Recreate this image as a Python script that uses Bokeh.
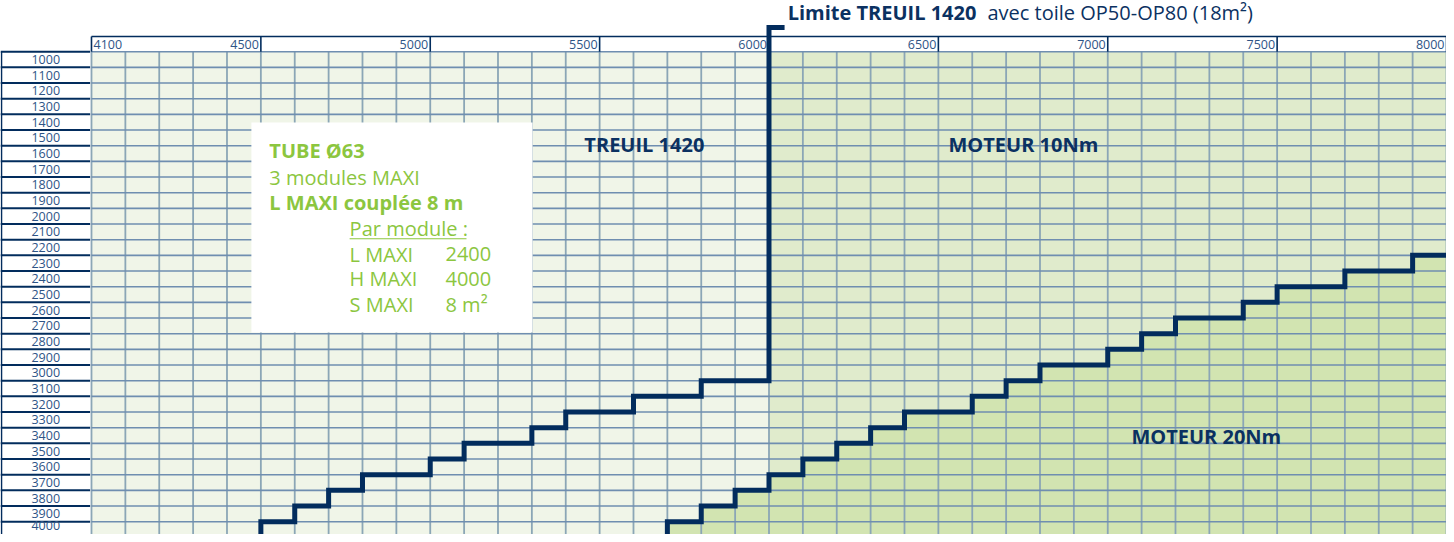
from bokeh.plotting import figure
from bokeh.models import Range1d
from bokeh.embed import file_html
from bokeh.resources import INLINE
from bokeh.core.properties import value

# ---------------- data ----------------
# row labels (each row is labelled by its upper height bound, in mm)
y_row_labels = [1000, 1100, 1200, 1300, 1400, 1500, 1600, 1700, 1800, 1900,
                2000, 2100, 2200, 2300, 2400, 2500, 2600, 2700, 2800, 2900,
                3000, 3100, 3200, 3300, 3400, 3500, 3600, 3700, 3800, 3900, 4000]
# top scale (width, mm)
x_tick_values = [4000, 4500, 5000, 5500, 6000, 6500, 7000, 7500, 8000]
x_tick_labels = ["4100", "4500", "5000", "5500", "6000", "6500", "7000", "7500", "8000"]

# TREUIL 1420 limit: from width x the max height becomes h
treuil_step_x = [4500, 4600, 4700, 4800, 5000, 5100, 5300, 5400, 5600, 5800]
treuil_step_h = [3900, 3800, 3700, 3600, 3500, 3400, 3300, 3200, 3100, 3000]
treuil_limit_x = 6000

# MOTEUR 20Nm / 10Nm boundary
moteur_step_x = [5700, 5800, 5900, 6000, 6100, 6200, 6300, 6400, 6600, 6700,
                 6800, 7000, 7100, 7200, 7400, 7500, 7700, 7900]
moteur_step_h = [3900, 3800, 3700, 3600, 3500, 3400, 3300, 3200, 3100, 3000,
                 2900, 2800, 2700, 2600, 2500, 2400, 2300, 2200]

x_min, x_max = 4000, 8000
y_min, y_max = 900, 4000
cell = 100

# ---------------- styling ----------------
NAVY = "#022C5D"
TXT_NAVY = "#0B3161"
LBL_BLUE = "#2E5486"
GREEN = "#8CC63F"
GRID_V = "#8BA6B6"
GRID_H = "#6F8EB0"
BG_LEFT = "#F0F5E8"
BG_RIGHT = "#E0EBCC"
BG_LOW = "#D2E4B1"
FONT = value("Open Sans")

X0, X1 = 3731.4, 8000.0
Y_BOT, Y_TOP = 3981.7, 573.2
BAND_TOP = 803

p = figure(width=1446, height=534,
           x_range=Range1d(X0, X1), y_range=Range1d(Y_BOT, Y_TOP),
           output_backend="svg", toolbar_location=None, min_border=0,
           x_axis_location=None, y_axis_location=None,
           outline_line_color=None, background_fill_color="white",
           border_fill_color="white")
p.grid.visible = False

# backgrounds
p.quad(left=[x_min, treuil_limit_x], right=[treuil_limit_x, x_max + cell],
       top=[y_min, y_min], bottom=[y_max + cell, y_max + cell],
       fill_color=[BG_LEFT, BG_RIGHT], line_color=None)


def step_path(xs, hs, x_end, y_start):
    px, py = [xs[0]], [y_start]
    for i in range(len(xs)):
        nx = xs[i + 1] if i + 1 < len(xs) else x_end
        px += [xs[i], nx]
        py += [hs[i], hs[i]]
    return px, py


# area under the 20Nm limit
lx, ly = step_path(moteur_step_x, moteur_step_h, x_max + cell, y_max + cell)
p.patch(lx + [x_max + cell], ly + [y_max + cell], fill_color=BG_LOW, line_color=None)

# grid cells
vx = [x_min + cell * i for i in range(0, (x_max - x_min) // cell + 1)]
p.segment(x0=vx, x1=vx, y0=[y_min] * len(vx), y1=[y_max + cell] * len(vx),
          line_color=GRID_V, line_width=1.8)
hy = [y_min + cell * i for i in range(0, (y_max - y_min) // cell + 1)]
p.segment(x0=[x_min] * len(hy), x1=[x_max + cell] * len(hy), y0=hy, y1=hy,
          line_color=GRID_H, line_width=1.6)

# left label column
p.segment(x0=[X0] * len(hy), x1=[x_min - 4] * len(hy), y0=hy, y1=hy,
          line_color=NAVY, line_width=2)
p.segment(x0=[X0 + 3], x1=[X0 + 3], y0=[y_min], y1=[y_max + cell],
          line_color=NAVY, line_width=1.5)
# row label centred in its row (last one nudged up so it stays inside the page)
label_y = [min(v - cell / 2, 3922) for v in y_row_labels]
p.text(x=[3865] * len(y_row_labels), y=label_y,
       text=[str(v) for v in y_row_labels], text_font=FONT, text_font_size="12.5px",
       text_color=LBL_BLUE, text_align="center", text_baseline="middle")

# top label band
p.segment(x0=[x_min], x1=[x_max + cell], y0=[BAND_TOP], y1=[BAND_TOP],
          line_color=NAVY, line_width=1.6)
p.segment(x0=x_tick_values, x1=x_tick_values, y0=[BAND_TOP] * len(x_tick_values),
          y1=[y_min] * len(x_tick_values), line_color=NAVY, line_width=1.6)
p.text(x=[x_tick_values[0] + 6], y=[853], text=[x_tick_labels[0]], text_font=FONT,
       text_font_size="12.5px", text_color=LBL_BLUE, text_align="left",
       text_baseline="middle")
p.text(x=[v - 6 for v in x_tick_values[1:]], y=[853] * (len(x_tick_values) - 1),
       text=x_tick_labels[1:], text_font=FONT, text_font_size="12.5px",
       text_color=LBL_BLUE, text_align="right", text_baseline="middle")

# step lines
tx, ty = step_path(treuil_step_x, treuil_step_h, treuil_limit_x, y_max + cell)
tx += [treuil_limit_x, treuil_limit_x + 46]
ty += [745, 745]
p.line(tx, ty, line_color=NAVY, line_width=5, line_join="miter")
p.line(lx, ly, line_color=NAVY, line_width=5, line_join="miter")

# info box
p.quad(left=[4472], right=[5302], top=[1352], bottom=[2692], fill_color="white",
       line_color=None)
p.text(x=[4525, 4525], y=[1531, 1862], text=["TUBE Ø63", "L MAXI couplée 8 m"],
       text_font=FONT, text_font_size="20px", text_font_style="bold",
       text_color=GREEN, text_align="left", text_baseline="middle")
p.text(x=[4525], y=[1703], text=["3 modules MAXI"], text_font=FONT,
       text_font_size="20px", text_color=GREEN, text_align="left",
       text_baseline="middle")
p.text(x=[4762, 4762, 4762, 4762], y=[2028, 2194, 2348, 2514],
       text=["Par module :", "L MAXI", "H MAXI", "S MAXI"], text_font=FONT,
       text_font_size="20px", text_color=GREEN, text_align="left",
       text_baseline="middle")
p.text(x=[5045, 5045, 5045], y=[2194, 2348, 2514], text=["2400", "4000", "8 m²"],
       text_font=FONT, text_font_size="20px", text_color=GREEN, text_align="left",
       text_baseline="middle")
p.segment(x0=[4762], x1=[5107], y0=[2094], y1=[2094], line_color=GREEN, line_width=1.2)

# zone labels
p.text(x=[5632, 6751, 7291], y=[1492, 1492, 3356],
       text=["TREUIL 1420", "MOTEUR 10Nm", "MOTEUR 20Nm"], text_font=FONT,
       text_font_size="20px", text_font_style="bold", text_color=TXT_NAVY,
       text_align="center", text_baseline="middle")

# title
p.text(x=[6055], y=[650], text=["Limite TREUIL 1420"], text_font=FONT,
       text_font_size="20px", text_font_style="bold", text_color=TXT_NAVY,
       text_align="left", text_baseline="middle")
p.text(x=[6645], y=[650], text=["avec toile OP50-OP80 (18m²)"], text_font=FONT,
       text_font_size="20px", text_color=TXT_NAVY, text_align="left",
       text_baseline="middle")

open("out.html", "w").write(file_html(p, INLINE))
